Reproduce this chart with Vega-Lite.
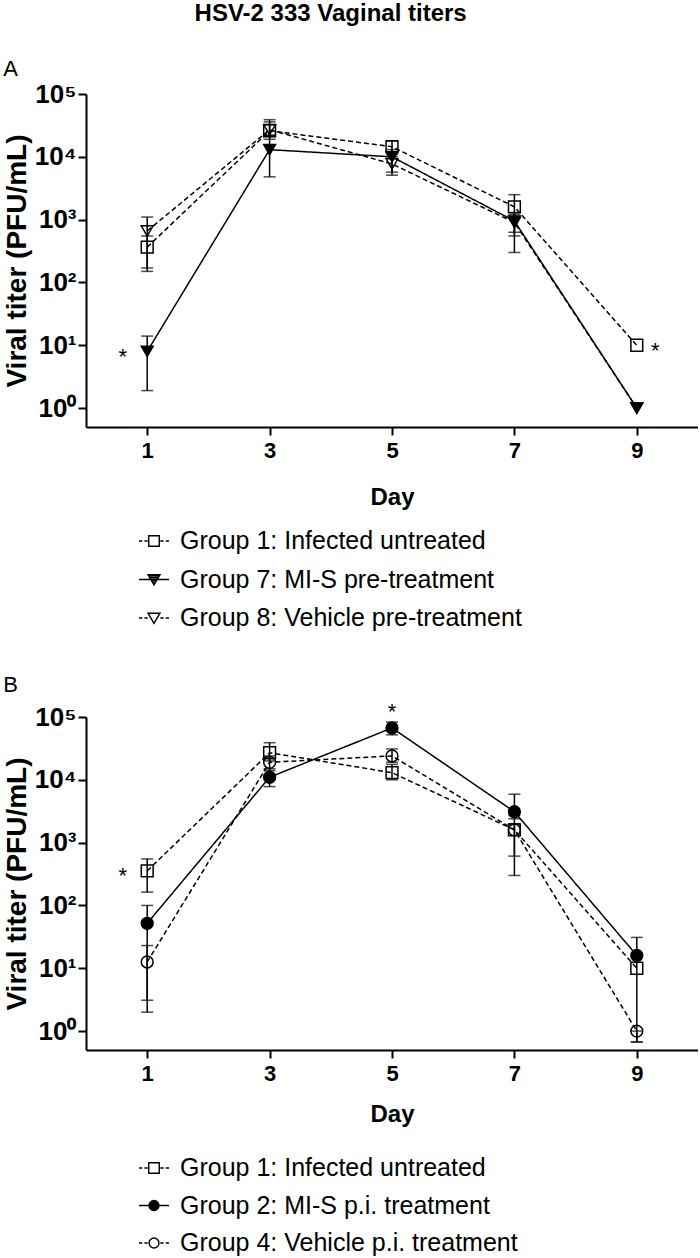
{
  "$schema": "https://vega.github.io/schema/vega-lite/v6.json",
  "background": "white",
  "padding": {"left": 3, "top": 2, "right": 0, "bottom": 0},
  "config": {
    "view": {"stroke": null},
    "font": "Liberation Sans",
    "axis": {
      "domainColor": "black", "domainWidth": 2, "tickColor": "black", "tickWidth": 2, "tickSize": 8,
      "labelColor": "black", "labelFont": "Liberation Sans", "labelFontWeight": "bold",
      "titleColor": "black", "titleFont": "Liberation Sans", "titleFontWeight": "bold", "grid": false
    },
    "legend": {
      "orient": "none", "direction": "vertical", "padding": 0,
      "symbolSize": 900, "symbolStrokeWidth": 1.4, "symbolOpacity": 1, "symbolFillColor": "transparent",
      "labelFont": "Liberation Sans", "labelFontSize": 25, "labelColor": "black", "labelOffset": 10, "labelLimit": 600
    }
  },
  "title": {"text": "HSV-2 333 Vaginal titers", "font": "Liberation Sans", "fontSize": 24, "fontWeight": "bold", "color": "black", "anchor": "middle", "offset": 32, "dx": -20},
  "spacing": 42,
  "datasets": {
    "A": [
      {"group": "Group 1: Infected untreated", "day": 1, "value": 365, "lo": 170, "hi": 550},
      {"group": "Group 1: Infected untreated", "day": 3, "value": 26000, "lo": 19000, "hi": 39000},
      {"group": "Group 1: Infected untreated", "day": 5, "value": 14500, "lo": 11000, "hi": 17800},
      {"group": "Group 1: Infected untreated", "day": 7, "value": 1600, "lo": 630, "hi": 2500},
      {"group": "Group 1: Infected untreated", "day": 9, "value": 10, "lo": null, "hi": null},
      {"group": "Group 7: MI-S pre-treatment", "day": 1, "value": 8, "lo": 1.9, "hi": 14},
      {"group": "Group 7: MI-S pre-treatment", "day": 3, "value": 13000, "lo": 4800, "hi": 22000},
      {"group": "Group 7: MI-S pre-treatment", "day": 5, "value": 10000, "lo": 5700, "hi": 13000},
      {"group": "Group 7: MI-S pre-treatment", "day": 7, "value": 950, "lo": 300, "hi": 1300},
      {"group": "Group 7: MI-S pre-treatment", "day": 9, "value": 1, "lo": null, "hi": null},
      {"group": "Group 8: Vehicle pre-treatment", "day": 1, "value": 660, "lo": 150, "hi": 1100},
      {"group": "Group 8: Vehicle pre-treatment", "day": 3, "value": 27000, "lo": 22000, "hi": 36000},
      {"group": "Group 8: Vehicle pre-treatment", "day": 5, "value": 7700, "lo": 5100, "hi": 10000},
      {"group": "Group 8: Vehicle pre-treatment", "day": 7, "value": 900, "lo": 550, "hi": 1200},
      {"group": "Group 8: Vehicle pre-treatment", "day": 9, "value": 1, "lo": null, "hi": null}
    ],
    "B": [
      {"group": "Group 1: Infected untreated", "day": 1, "value": 355, "lo": 163, "hi": 550},
      {"group": "Group 1: Infected untreated", "day": 3, "value": 27000, "lo": 20000, "hi": 39000},
      {"group": "Group 1: Infected untreated", "day": 5, "value": 13000, "lo": 10000, "hi": 17600},
      {"group": "Group 1: Infected untreated", "day": 7, "value": 1600, "lo": 610, "hi": 2400},
      {"group": "Group 1: Infected untreated", "day": 9, "value": 10, "lo": null, "hi": null},
      {"group": "Group 2: MI-S p.i. treatment", "day": 1, "value": 52, "lo": 3.1, "hi": 100},
      {"group": "Group 2: MI-S p.i. treatment", "day": 3, "value": 11000, "lo": 7800, "hi": 15000},
      {"group": "Group 2: MI-S p.i. treatment", "day": 5, "value": 67000, "lo": 52000, "hi": 83000},
      {"group": "Group 2: MI-S p.i. treatment", "day": 7, "value": 3100, "lo": 2700, "hi": 5900},
      {"group": "Group 2: MI-S p.i. treatment", "day": 9, "value": 16, "lo": 0.67, "hi": 31},
      {"group": "Group 4: Vehicle p.i. treatment", "day": 1, "value": 12.6, "lo": 2, "hi": 23},
      {"group": "Group 4: Vehicle p.i. treatment", "day": 3, "value": 19000, "lo": 14000, "hi": 24000},
      {"group": "Group 4: Vehicle p.i. treatment", "day": 5, "value": 24000, "lo": 19000, "hi": 31000},
      {"group": "Group 4: Vehicle p.i. treatment", "day": 7, "value": 1600, "lo": 300, "hi": 2000},
      {"group": "Group 4: Vehicle p.i. treatment", "day": 9, "value": 1, "lo": 0.67, "hi": 1}
    ],
    "starsA": [
      {"day": 0.6, "value": 8, "label": "*"},
      {"day": 9.3, "value": 10, "label": "*"}
    ],
    "starsB": [
      {"day": 0.6, "value": 370, "label": "*"},
      {"day": 5, "value": 150000, "label": "*"}
    ]
  },
  "vconcat": [
    {
      "width": 612, "height": 333,
      "title": {"text": "A", "anchor": "start", "frame": "bounds", "font": "Liberation Sans", "fontSize": 22, "fontWeight": "normal", "color": "black", "offset": 0},
      "encoding": {
        "x": {"field": "day", "type": "quantitative", "scale": {"domain": [0, 10], "nice": false},
              "axis": {"values": [1, 3, 5, 7, 9], "title": "Day", "labelFontSize": 22, "labelPadding": 5, "titleFontSize": 24, "titlePadding": 24}}
      },
      "layer": [
        {
          "data": {"name": "A"},
          "mark": {"type": "line", "color": "black", "strokeWidth": 1.5},
          "encoding": {
            "y": {"field": "value", "type": "quantitative", "title": "Viral titer (PFU/mL)",
                  "scale": {"type": "log", "domain": [0.5, 100000], "nice": false},
                  "axis": {"values": [1, 10, 100, 1000, 10000, 100000], "labelExpr": "'10' + ['⁰','¹','²','³','⁴','⁵'][round(log(datum.value)/LN10)]", "labelFontSize": 26, "labelPadding": 2, "titleFontSize": 28, "titlePadding": 3}},
            "detail": {"field": "group", "type": "nominal"},
            "strokeDash": {"condition": {"test": "datum.group === 'Group 7: MI-S pre-treatment'", "value": [1, 0]}, "value": [5, 3]}
          }
        },
        {
          "data": {"name": "A"},
          "mark": {"type": "rule", "color": "black", "strokeWidth": 1.5},
          "encoding": {
            "y": {"field": "lo", "type": "quantitative", "title": "Viral titer (PFU/mL)"},
            "y2": {"field": "hi"}
          }
        },
        {
          "data": {"name": "A"},
          "mark": {"type": "tick", "orient": "horizontal", "size": 12, "thickness": 1.5, "color": "black"},
          "encoding": {"y": {"field": "lo", "type": "quantitative", "title": "Viral titer (PFU/mL)"}}
        },
        {
          "data": {"name": "A"},
          "mark": {"type": "tick", "orient": "horizontal", "size": 12, "thickness": 1.5, "color": "black"},
          "encoding": {"y": {"field": "hi", "type": "quantitative", "title": "Viral titer (PFU/mL)"}}
        },
        {
          "data": {"name": "A"},
          "mark": {"type": "point", "filled": true, "stroke": "black", "strokeWidth": 1.5, "size": 140, "opacity": 1},
          "encoding": {
            "y": {"field": "value", "type": "quantitative", "title": "Viral titer (PFU/mL)"},
            "shape": {"condition": {"test": "datum.group !== 'Group 1: Infected untreated'", "value": "triangle-down"}, "value": "square"},
            "fill": {"condition": {"test": "datum.group === 'Group 7: MI-S pre-treatment'", "value": "black"}, "value": "transparent"}
          }
        },
        {
          "data": {"name": "A"},
          "mark": {"type": "point", "filled": false, "color": "black", "strokeWidth": 1.4, "opacity": 0},
          "encoding": {
            "y": {"field": "value", "type": "quantitative", "title": "Viral titer (PFU/mL)"},
            "shape": {"field": "group", "type": "nominal",
              "scale": {"domain": ["Group 1: Infected untreated", "Group 7: MI-S pre-treatment", "Group 8: Vehicle pre-treatment"],
                        "range": [
                          "M-1,0H-0.78M-0.64,0H-0.42M0.42,0H0.64M0.78,0H1M-0.35,-0.35H0.35V0.35H-0.35Z",
                          "M-1,0H1M-0.4,-0.32H0.4L0,0.36ZM-0.35,-0.24H0.35M-0.29,-0.14H0.29M-0.23,-0.04H0.23M-0.17,0.06H0.17M-0.11,0.16H0.11M-0.05,0.26H0.05",
                          "M-1,0H-0.78M-0.64,0H-0.42M0.42,0H0.64M0.78,0H1M-0.4,-0.32H0.4L0,0.36Z"
                        ]},
              "legend": {"legendX": 52, "legendY": 431, "title": null, "rowPadding": 9.5}}
          }
        },
        {
          "data": {"name": "starsA"},
          "mark": {"type": "text", "font": "Liberation Sans", "fontSize": 22, "color": "black", "dy": 6},
          "encoding": {
            "y": {"field": "value", "type": "quantitative", "title": "Viral titer (PFU/mL)"},
            "text": {"field": "label"}
          }
        }
      ]
    },
    {
      "width": 612, "height": 333,
      "title": {"text": "B", "anchor": "start", "frame": "bounds", "font": "Liberation Sans", "fontSize": 22, "fontWeight": "normal", "color": "black", "offset": 4},
      "encoding": {
        "x": {"field": "day", "type": "quantitative", "scale": {"domain": [0, 10], "nice": false},
              "axis": {"values": [1, 3, 5, 7, 9], "title": "Day", "labelFontSize": 22, "labelPadding": 5, "titleFontSize": 24, "titlePadding": 18}}
      },
      "layer": [
        {
          "data": {"name": "B"},
          "mark": {"type": "line", "color": "black", "strokeWidth": 1.5},
          "encoding": {
            "y": {"field": "value", "type": "quantitative", "title": "Viral titer (PFU/mL)",
                  "scale": {"type": "log", "domain": [0.5, 100000], "nice": false},
                  "axis": {"values": [1, 10, 100, 1000, 10000, 100000], "labelExpr": "'10' + ['⁰','¹','²','³','⁴','⁵'][round(log(datum.value)/LN10)]", "labelFontSize": 26, "labelPadding": 2, "titleFontSize": 28, "titlePadding": 3}},
            "detail": {"field": "group", "type": "nominal"},
            "strokeDash": {"condition": {"test": "datum.group === 'Group 2: MI-S p.i. treatment'", "value": [1, 0]}, "value": [5, 3]}
          }
        },
        {
          "data": {"name": "B"},
          "mark": {"type": "rule", "color": "black", "strokeWidth": 1.5},
          "encoding": {
            "y": {"field": "lo", "type": "quantitative", "title": "Viral titer (PFU/mL)"},
            "y2": {"field": "hi"}
          }
        },
        {
          "data": {"name": "B"},
          "mark": {"type": "tick", "orient": "horizontal", "size": 12, "thickness": 1.5, "color": "black"},
          "encoding": {"y": {"field": "lo", "type": "quantitative", "title": "Viral titer (PFU/mL)"}}
        },
        {
          "data": {"name": "B"},
          "mark": {"type": "tick", "orient": "horizontal", "size": 12, "thickness": 1.5, "color": "black"},
          "encoding": {"y": {"field": "hi", "type": "quantitative", "title": "Viral titer (PFU/mL)"}}
        },
        {
          "data": {"name": "B"},
          "mark": {"type": "point", "filled": true, "stroke": "black", "strokeWidth": 1.5, "size": 140, "opacity": 1},
          "encoding": {
            "y": {"field": "value", "type": "quantitative", "title": "Viral titer (PFU/mL)"},
            "shape": {"condition": {"test": "datum.group !== 'Group 1: Infected untreated'", "value": "circle"}, "value": "square"},
            "fill": {"condition": {"test": "datum.group === 'Group 2: MI-S p.i. treatment'", "value": "black"}, "value": "transparent"}
          }
        },
        {
          "data": {"name": "B"},
          "mark": {"type": "point", "filled": false, "color": "black", "strokeWidth": 1.4, "opacity": 0},
          "encoding": {
            "y": {"field": "value", "type": "quantitative", "title": "Viral titer (PFU/mL)"},
            "shape": {"field": "group", "type": "nominal",
              "scale": {"domain": ["Group 1: Infected untreated", "Group 2: MI-S p.i. treatment", "Group 4: Vehicle p.i. treatment"],
                        "range": [
                          "M-1,0H-0.78M-0.64,0H-0.42M0.42,0H0.64M0.78,0H1M-0.35,-0.35H0.35V0.35H-0.35Z",
                          "M-1,0H1M0.33,0A0.33,0.33,0,1,1,-0.33,0A0.33,0.33,0,1,1,0.33,0ZM-0.21,-0.25H0.21M-0.29,-0.15H0.29M-0.32,-0.05H0.32M-0.32,0.05H0.32M-0.29,0.15H0.29M-0.21,0.25H0.21",
                          "M-1,0H-0.78M-0.64,0H-0.42M0.42,0H0.64M0.78,0H1M0.33,0A0.33,0.33,0,1,1,-0.33,0A0.33,0.33,0,1,1,0.33,0Z"
                        ]},
              "legend": {"legendX": 52, "legendY": 435, "title": null, "rowPadding": 8.5}}
          }
        },
        {
          "data": {"name": "starsB"},
          "mark": {"type": "text", "font": "Liberation Sans", "fontSize": 22, "color": "black", "dy": 6},
          "encoding": {
            "y": {"field": "value", "type": "quantitative", "title": "Viral titer (PFU/mL)"},
            "text": {"field": "label"}
          }
        }
      ]
    }
  ],
  "resolve": {
    "scale": {"shape": "independent"},
    "legend": {"shape": "independent"}
  }
}
